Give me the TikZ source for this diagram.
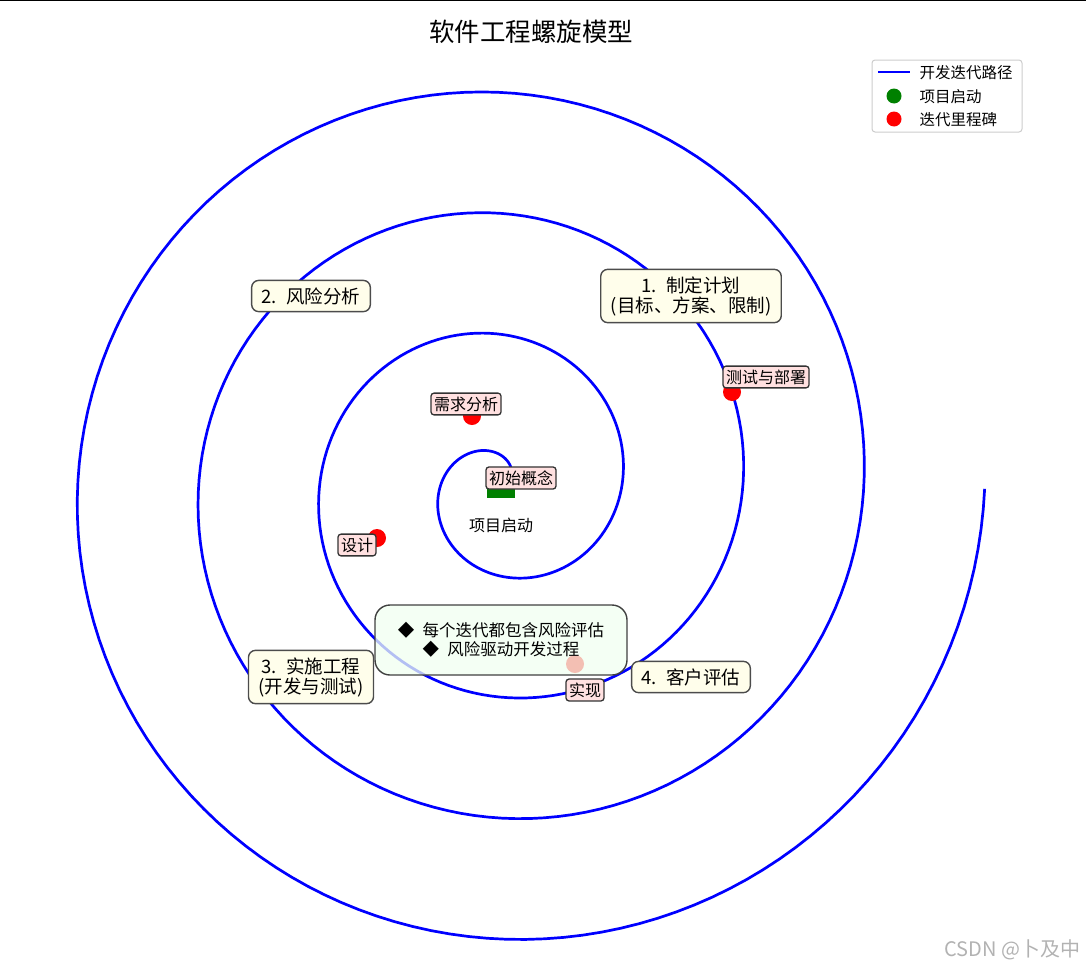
\documentclass[tikz,border=0pt]{standalone}
\usepackage{fontspec}
\setmainfont{Noto Sans CJK SC}
\begin{document}
\begin{tikzpicture}[x=1pt,y=-1pt,
  phase/.style={draw=black!70,fill=yellow!8,rounded corners=7pt,align=center,font=\fontsize{18.5}{20}\selectfont,inner xsep=10pt,inner ysep=7pt,line width=1.4pt},
  mile/.style={draw=black!80,fill=red!12,rounded corners=3pt,font=\fontsize{16}{17}\selectfont,inner xsep=3pt,inner ysep=3.5pt,line width=1.3pt},
  rdot/.style={circle,fill=red,inner sep=0,minimum size=18pt}]
\useasboundingbox (0,0) rectangle (1086,969);
\draw[line width=1.2pt] (0,0.5) -- (1086,0.5);
\node (title) at (531,32) {\fontsize{25.5}{27}\selectfont 软件工程螺旋模型};
\draw[blue,line width=2.7pt] plot[domain=0:25.1327,samples=600,variable=\t] ({501+19.25*\t*cos(\t r)},{485.5-19.25*\t*sin(\t r)});
% start marker
\node[fill=green!50!black,minimum width=28pt,minimum height=14pt,inner sep=0] (start) at (501,491) {};
\node (startlbl) at (501,525) {\fontsize{16}{17}\selectfont 项目启动};
% milestones
\node[rdot] (m0) at (516,479) {};
\node[rdot] (m1) at (472,416) {};
\node[rdot] (m2) at (377,538) {};
\node[rdot] (m4) at (732,392) {};
\node[mile] (l0) at (521,478) {初始概念};
\node[mile] (l1) at (466,404) {需求分析};
\node[mile] (l2) at (357,545) {设计};
\node[mile] (l4) at (766,377) {测试与部署};
\node[rdot] (m3) at (575,664) {};
\node[mile] (l3) at (585,690) {实现};
% phases
\node[phase] (p1) at (691,296) {1.\enspace 制定计划\\(目标、方案、限制)};
\node[phase] (p2) at (311,296) {2.\enspace 风险分析};
\node[phase] (p3) at (311,677) {3.\enspace 实施工程\\(开发与测试)};
\node[phase] (p4) at (691,677) {4.\enspace 客户评估};
\node[draw=black!75,fill=green!6,fill opacity=0.75,text opacity=1,rounded corners=15pt,align=center,minimum width=252pt,minimum height=70pt,line width=1.4pt,font=\fontsize{16.5}{19}\selectfont] (note) at (501,640) {◆\enspace 每个迭代都包含风险评估\\◆\enspace 风险驱动开发过程};
% legend
\node[draw=black!20,rounded corners=3pt,minimum width=150pt,minimum height=72pt,line width=1pt] (leg) at (947,96) {};
\draw[blue,line width=2.7pt] (878,72) -- (910,72);
\node[anchor=west] (lg1) at (916,73) {\fontsize{15.5}{17}\selectfont 开发迭代路径};
\node[circle,fill=green!50!black,inner sep=0,minimum size=15pt] (lgd2) at (894,96) {};
\node[anchor=west] (lg2) at (916,97) {\fontsize{15.5}{17}\selectfont 项目启动};
\node[circle,fill=red,inner sep=0,minimum size=15pt] (lgd3) at (894,119) {};
\node[anchor=west] (lg3) at (916,120) {\fontsize{15.5}{17}\selectfont 迭代里程碑};
\node[anchor=east,text=black!30] (wm) at (1084,950) {\fontsize{20}{22}\selectfont CSDN @卜及中};
\end{tikzpicture}
\end{document}
